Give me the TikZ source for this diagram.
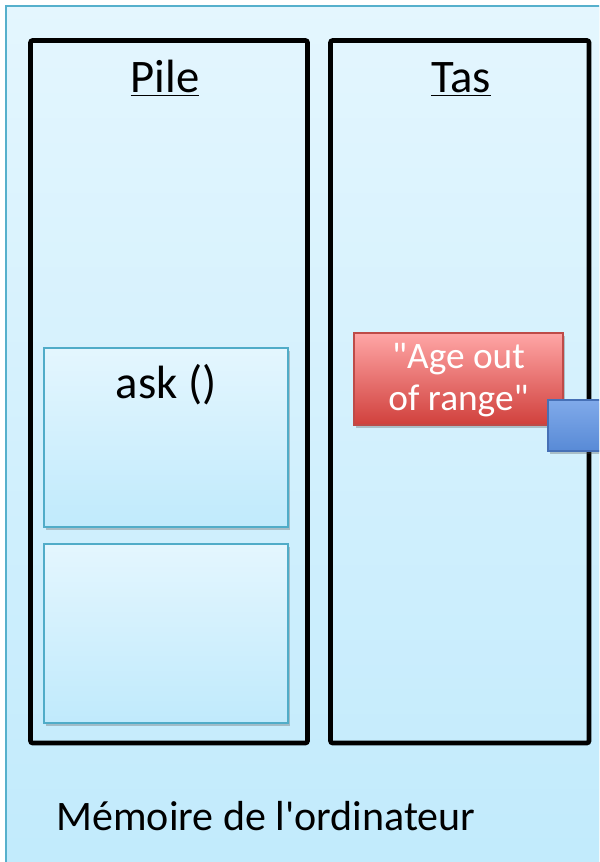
\documentclass[tikz,border=0pt]{standalone}
\usepackage{fontspec}
\setmainfont{Carlito}[Ligatures=TeXOff]
\usetikzlibrary{shadows}

\definecolor{memtop}{RGB}{228,246,254}
\definecolor{membot}{RGB}{192,234,252}
\definecolor{memline}{RGB}{86,176,204}
\definecolor{cellline}{RGB}{80,172,200}
\definecolor{redtop}{RGB}{255,166,166}
\definecolor{redbot}{RGB}{208,64,60}
\definecolor{redline}{RGB}{190,75,72}
\definecolor{bluetop}{RGB}{128,170,234}
\definecolor{bluebot}{RGB}{88,138,214}
\definecolor{blueline}{RGB}{70,112,182}

\tikzset{every picture/.style={line width=0.75pt}}
\tikzset{
  memorybox/.style={draw=memline, line width=1.5pt, top color=memtop, bottom color=membot,
    drop shadow={shadow xshift=0pt, shadow yshift=0pt, opacity=0.25, fill=black!60}},
  zoneframe/.style={draw=black, line width=3.4pt, rounded corners=1.5pt},
  cellbox/.style={draw=cellline, line width=1.5pt, top color=memtop, bottom color=membot,
    drop shadow={shadow xshift=1.5pt, shadow yshift=-2pt, opacity=0.3, fill=black!70}},
  stringbox/.style={draw=redline, line width=0.9pt, top color=redtop, bottom color=redbot,
    drop shadow={shadow xshift=1.5pt, shadow yshift=-2pt, opacity=0.3, fill=black!70}},
  refbox/.style={draw=blueline, line width=0.9pt, top color=bluetop, bottom color=bluebot,
    drop shadow={shadow xshift=1.5pt, shadow yshift=-2pt, opacity=0.3, fill=black!70}},
  biglabel/.style={anchor=base, inner sep=0pt, font=\fontsize{35}{42}\selectfont},
}

\begin{document}
\begin{tikzpicture}[x=0.75pt,y=0.75pt,yscale=-1,xscale=1]
\clip (0,0) rectangle (599,862);

%Shape: Rectangle [memoire]
\draw [memorybox] (6,6) rectangle (640,900) ;
%Shape: Rectangle [pile]
\draw [zoneframe] (30.5,40.5) rectangle (307.5,743) ;
%Shape: Rectangle [tas]
\draw [zoneframe] (330.5,40.5) rectangle (589,743) ;
%Shape: Rectangle [frame ask]
\draw [cellbox] (44,348) rectangle (288,527) ;
%Shape: Rectangle [frame main]
\draw [cellbox] (44,544) rectangle (288,723) ;
%Shape: Rectangle [chaine]
\draw [stringbox] (354,333) rectangle (563,425) ;
%Shape: Rectangle [reference]
\draw [refbox] (548,400) rectangle (640,451) ;

%Text
\node [biglabel] (pilelbl) at (165,93) {\underline{Pile}};
\node [biglabel] (taslbl) at (461,93) {\underline{Tas}};
\node [biglabel] (asklbl) at (166,398) {ask ()};
\node [anchor=center, inner sep=0pt, align=center, text=white, font=\fontsize{28}{32}\selectfont] (chainelbl) at (458.5,380) {"Age out\\of range"};
\node [biglabel, font=\fontsize{31.5}{37}\selectfont] (memlbl) at (266,830) {Mémoire de l'ordinateur};

\end{tikzpicture}
\end{document}
